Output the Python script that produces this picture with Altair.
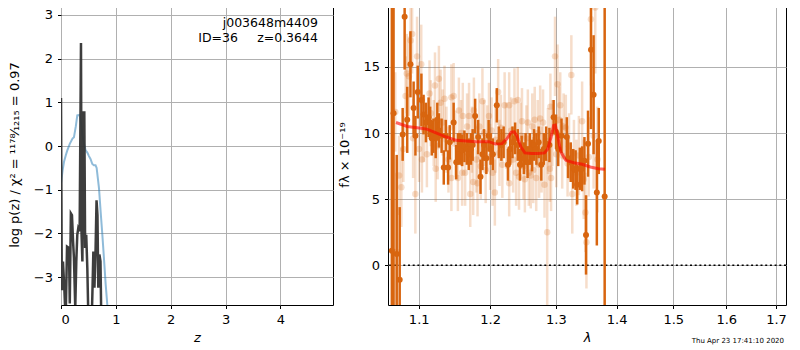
import altair as alt
import pandas as pd

FONT = "DejaVu Sans"

# ---------------- left panel: p(z) ----------------
z_blue = [0.0, 0.03, 0.055, 0.09, 0.115, 0.16, 0.21, 0.236, 0.27, 0.297, 0.34, 0.37, 0.39,
          0.42, 0.45, 0.48, 0.51, 0.54, 0.571, 0.6, 0.63, 0.65, 0.693, 0.72, 0.754, 0.785,
          0.815, 0.845, 0.87]
logp_blue = [-0.85, -0.55, -0.36, -0.2, -0.1, 0.05, 0.17, 0.2, 0.45, 0.70, 0.71, 0.5, 0.25,
             0.05, -0.1, -0.15, -0.23, -0.3, -0.41, -0.44, -0.44, -0.5, -0.97, -1.45, -2.03,
             -2.6, -3.17, -3.64, -4.2]

z_black = [0.0, 0.015, 0.036, 0.06, 0.085, 0.11, 0.145, 0.16, 0.18, 0.2, 0.22, 0.236, 0.26,
           0.279, 0.297, 0.315, 0.34, 0.3644, 0.375, 0.39, 0.41, 0.425, 0.44, 0.46, 0.48, 0.5,
           0.56, 0.575, 0.59, 0.61, 0.63, 0.648, 0.665, 0.68, 0.7, 0.72, 0.735]
logp_black = [1.1, -3.3, -2.64, -3.24, -4.0, -2.3, -2.33, -3.6, -1.54, -1.58, -2.18, -2.56, -3.7,
              -2.64, -2.03, -1.88, -1.95, 2.36, -2.03, -2.64, 0.77, 0.77, -2.33, -2.03, -2.79,
              -4.0, -4.0, -3.24, -2.41, -3.24, -2.41, -1.24, -1.58, -3.24, -2.48, -2.64, -4.0]

z_ticks = [0, 1, 2, 3, 4]
logp_ticks = [-3, -2, -1, 0, 1, 2, 3]

# ---------------- right panel: spectrum ----------------
dark_wave = [1.0646, 1.0668, 1.0709, 1.0748, 1.0787, 1.0813, 1.0847, 1.0890, 1.0932, 1.0956,
             1.0987, 1.1036, 1.1065, 1.1097, 1.1133, 1.1154, 1.1176, 1.1199, 1.1230, 1.1252,
             1.1274, 1.1311, 1.1341, 1.1369, 1.1401, 1.1424, 1.1478, 1.1515, 1.1538, 1.1570,
             1.1598, 1.1630, 1.1664, 1.1691, 1.1723, 1.1747, 1.1783, 1.1826, 1.1860, 1.1888,
             1.1911, 1.1945, 1.1978, 1.2007, 1.2040, 1.2098, 1.2127, 1.2166, 1.2199, 1.2263,
             1.2297, 1.2331, 1.2371, 1.2411, 1.2445, 1.2470, 1.2504, 1.2530, 1.2560, 1.2594,
             1.2629, 1.2659, 1.2696, 1.2731, 1.2772, 1.2811, 1.2848, 1.2899, 1.2965, 1.3003,
             1.3038, 1.3090, 1.3175, 1.3195, 1.3238, 1.3279, 1.3317, 1.3343, 1.3386, 1.3423,
             1.3461, 1.3487, 1.3520, 1.3569, 1.3612, 1.3666, 1.3698, 1.3797]
dark_flux = [1.1, 11.5, 0.85, -1.1, 9.9, 18.8, 11.0, 15.2, 11.9, 9.8,
             13.1, 12.5, 11.4, 10.8, 11.2, 10.8, 9.6, 9.8, 9.6, 11.0,
             10.2, 9.8, 7.4, 9.8, 7.4, 9.3, 10.8, 7.8, 8.8, 8.8,
             8.7, 9.0, 8.8, 8.4, 8.8, 9.1, 11.3, 9.7, 6.7, 8.4,
             9.1, 8.1, 9.8, 8.8, 8.4, 12.1, 9.3, 9.1, 9.3, 7.6,
             8.8, 9.3, 9.6, 9.1, 7.6, 8.6, 8.1, 8.8, 7.8, 8.8,
             8.3, 9.1, 8.8, 9.3, 7.6, 8.8, 9.2, 9.1, 11.2, 10.1,
             8.8, 9.8, 9.7, 8.1, 7.8, 7.3, 7.2, 6.1, 7.3, 7.3,
             7.9, 2.3, 9.2, 16.3, 12.9, 5.5, 9.4, 5.2]
dark_err = [25, 20, 7.5, 5.5, 2.0, 4.0, 2.5, 2.5, 2.0, 1.5,
            2.0, 2.0, 1.5, 1.5, 1.5, 1.2, 1.3, 1.3, 1.5, 1.3,
            1.3, 1.3, 1.3, 1.2, 1.3, 1.3, 1.5, 1.3, 1.2, 1.2,
            1.2, 1.2, 1.2, 1.2, 1.2, 1.2, 1.3, 1.3, 1.3, 1.2,
            1.2, 1.2, 1.2, 1.2, 1.2, 1.3, 1.2, 1.2, 1.2, 1.2,
            1.2, 1.2, 1.2, 1.2, 1.2, 1.2, 1.2, 1.2, 1.2, 1.2,
            1.2, 1.2, 1.2, 1.2, 1.2, 1.2, 1.3, 1.3, 1.3, 1.3,
            1.3, 1.3, 1.5, 1.5, 1.5, 1.5, 1.5, 1.5, 1.6, 1.7,
            1.8, 3.0, 2.5, 6.0, 4.5, 4.0, 2.5, 40]

light_wave = [1.0690, 1.0706, 1.0740, 1.0770, 1.0796, 1.0826, 1.0841, 1.0869, 1.0892, 1.0912,
              1.0925, 1.0955, 1.0978, 1.1004, 1.1034, 1.1043, 1.1070, 1.1110, 1.1146, 1.1163,
              1.1203, 1.1220, 1.1230, 1.1256, 1.1274, 1.1297, 1.1325, 1.1351, 1.1378, 1.1406,
              1.1447, 1.1447, 1.1478, 1.1501, 1.1538, 1.1552, 1.1584, 1.1598, 1.1607, 1.1640,
              1.1668, 1.1696, 1.1713, 1.1737, 1.1755, 1.1765, 1.1800, 1.1817, 1.1843, 1.1864,
              1.1888, 1.1914, 1.1935, 1.1957, 1.1983, 1.2000, 1.2021, 1.2036, 1.2069, 1.2079,
              1.2118, 1.2137, 1.2158, 1.2180, 1.2214, 1.2239, 1.2282, 1.2282, 1.2312, 1.2341,
              1.2361, 1.2386, 1.2411, 1.2430, 1.2452, 1.2475, 1.2497, 1.2519, 1.2542, 1.2564,
              1.2579, 1.2609, 1.2632, 1.2647, 1.2670, 1.2693, 1.2716, 1.2738, 1.2754, 1.2776,
              1.2799, 1.2822, 1.2864, 1.2876, 1.2907, 1.2914, 1.2925, 1.2945, 1.2987, 1.3007,
              1.3027, 1.3054, 1.3070, 1.3101, 1.3124, 1.3159, 1.3187, 1.3211, 1.3248, 1.3263,
              1.3290, 1.3330, 1.3370, 1.3423, 1.3450, 1.3477, 1.3494, 1.3531, 1.3568, 1.3612,
              1.3640, 1.3677]
light_flux = [11.6, 1.0, 6.8, 5.9, 8.8, 12.8, 14.5, 14.3, 17.0, 17.5,
              9.6, 5.4, 15.8, 8.8, 15.2, 8.0, 10.3, 8.4, 13.0, 11.5,
              10.0, 13.6, 7.3, 9.0, 14.1, 12.3, 10.8, 12.6, 9.5, 8.0,
              12.7, 6.6, 12.8, 9.2, 6.6, 11.7, 10.0, 7.0, 11.3, 7.0,
              10.5, 11.3, 5.4, 9.5, 6.3, 11.7, 8.0, 6.2, 10.5, 7.5,
              12.4, 10.0, 7.2, 9.6, 11.3, 8.2, 10.2, 7.0, 5.5, 9.5,
              13.1, 8.5, 10.4, 7.6, 12.1, 9.8, 12.1, 6.2, 10.2, 8.0,
              12.4, 7.0, 12.5, 6.7, 9.8, 10.9, 7.5, 6.5, 9.6, 10.8,
              7.0, 6.8, 10.5, 7.2, 11.0, 6.6, 10.0, 7.6, 11.1, 8.0,
              10.8, 6.1, 2.5, 9.4, 7.3, 12.0, 6.6, 10.0, 15.8, 8.4,
              13.7, 11.0, 12.1, 8.3, 10.5, 10.4, 7.7, 9.0, 14.4, 5.4,
              8.5, 7.0, 8.3, 10.9, 6.5, 4.0, 1.75, 8.2, 18.6, 9.8,
              19.5, 8.0]
light_err = [3.0, 6.0, 3.0, 3.0, 2.5, 3.0, 3.0, 3.0, 3.0, 3.0,
             3.0, 3.0, 3.0, 2.5, 3.0, 2.5, 2.5, 2.5, 2.5, 2.5,
             2.5, 2.5, 2.5, 2.5, 2.5, 2.5, 2.5, 2.5, 2.5, 2.5,
             2.5, 2.5, 2.5, 2.5, 2.5, 2.5, 2.5, 2.5, 2.5, 2.5,
             2.5, 2.5, 2.5, 2.5, 2.5, 2.5, 2.5, 2.5, 2.5, 2.5,
             2.5, 2.5, 2.5, 2.5, 2.5, 2.5, 2.5, 2.5, 2.5, 2.5,
             2.5, 2.5, 2.5, 2.5, 2.5, 2.5, 2.5, 2.5, 2.5, 2.5,
             2.5, 2.5, 2.5, 2.5, 2.5, 2.5, 2.5, 2.5, 2.5, 2.5,
             2.5, 2.5, 2.5, 2.5, 2.5, 2.5, 2.5, 2.5, 2.5, 2.5,
             2.5, 2.5, 5.5, 2.5, 2.5, 2.5, 2.5, 2.5, 3.0, 2.5,
             3.0, 2.5, 2.5, 2.5, 2.5, 2.5, 2.5, 2.5, 3.0, 3.0,
             2.5, 2.5, 3.0, 3.0, 3.0, 3.0, 3.5, 3.0, 5.0, 4.0,
             5.0, 4.0]

model_wave = [1.0700, 1.0847, 1.0978, 1.1110, 1.1243, 1.1378, 1.1515, 1.1654, 1.1793, 1.1983,
              1.2079, 1.2175, 1.2248, 1.2312, 1.2356, 1.2396, 1.2460, 1.2519, 1.2620, 1.2720,
              1.2822, 1.2873, 1.2925, 1.2965, 1.2992, 1.3027, 1.3080, 1.3159, 1.3290, 1.3423,
              1.3558, 1.3693, 1.3802]
model_flux = [10.8, 10.5, 10.4, 10.3, 10.0, 9.7, 9.45, 9.4, 9.35, 9.35,
              9.17, 9.2, 9.57, 10.07, 10.1, 9.8, 8.94, 8.5, 8.45, 8.45,
              8.5, 8.8, 9.7, 10.57, 10.6, 9.82, 8.57, 7.94, 7.76, 7.64,
              7.44, 7.31, 7.26]

wave_ticks = [1.1, 1.2, 1.3, 1.4, 1.5, 1.6, 1.7]
flux_ticks = [0, 5, 10, 15]

DARK = "#d8650f"
PLOT_H = 301

# ---------------- build left ----------------
df_blue = pd.DataFrame({"x": z_blue, "y": logp_blue})
df_black = pd.DataFrame({"x": z_black, "y": logp_black})

xl = alt.X("x:Q", scale=alt.Scale(domain=[0, 4.96], nice=False, zero=False),
           axis=alt.Axis(values=z_ticks, title="z", titleFontStyle="italic", format="d",
                         titlePadding=5))
yl = alt.Y("y:Q", scale=alt.Scale(domain=[-3.636, 3.25], nice=False, zero=False),
           axis=alt.Axis(values=logp_ticks, format="d",
                         title="log p(z) / χ² = ¹¹⁷⁸⁄₁₂₁₅ = 0.97"))

blue = alt.Chart(df_blue).mark_line(color="#1f77b4", opacity=0.5, strokeWidth=2, clip=True).encode(x=xl, y=yl)
black = alt.Chart(df_black).mark_line(color="#333333", opacity=0.95, strokeWidth=2.5, clip=True).encode(x="x:Q", y="y:Q")

ann = pd.DataFrame({"x": [4.685, 3.227, 4.685], "y": [2.818, 2.477, 2.477],
                    "t": ["j003648m4409", "ID=36", "z=0.3644"]})
ann_text = alt.Chart(ann).mark_text(align="right", baseline="middle", font=FONT, fontSize=12.5,
                                    color="black").encode(x="x:Q", y="y:Q", text="t:N")

left = alt.layer(blue, black, ann_text).properties(width=272, height=PLOT_H)

# ---------------- build right ----------------
df_dark = pd.DataFrame({"x": dark_wave, "y": dark_flux, "e": dark_err})
df_light = pd.DataFrame({"x": light_wave, "y": light_flux, "e": light_err})
df_model = pd.DataFrame({"x": model_wave, "y": model_flux})

xr = alt.X("x:Q", scale=alt.Scale(type="log", domain=[1.0596, 1.7208], nice=False, zero=False),
           axis=alt.Axis(values=wave_ticks, format=".1f", title="λ", titleFontStyle="italic",
                         titlePadding=5))
yr_scale = alt.Scale(domain=[-3.0, 19.76], nice=False, zero=False)
yr_axis = alt.Axis(values=flux_ticks, format="d", title="fλ × 10⁻¹⁹")

zero_line = alt.Chart(pd.DataFrame({"y": [0]})).mark_rule(
    color="black", strokeWidth=1.5, strokeDash=[2, 2.7]).encode(y="y:Q")

light_bars = alt.Chart(df_light).transform_calculate(
    lo="datum.y - datum.e", hi="datum.y + datum.e").mark_rule(
    color=DARK, opacity=0.22, strokeWidth=2.5, clip=True).encode(
    x=xr, y=alt.Y("lo:Q", scale=yr_scale, axis=yr_axis), y2="hi:Q")
light_pts = alt.Chart(df_light).mark_circle(color=DARK, opacity=0.22, size=42, clip=True).encode(x="x:Q", y="y:Q")

dark_bars = alt.Chart(df_dark).transform_calculate(
    lo="datum.y - datum.e", hi="datum.y + datum.e").mark_rule(
    color=DARK, opacity=1, strokeWidth=2.5, clip=True).encode(x="x:Q", y="lo:Q", y2="hi:Q")
dark_pts = alt.Chart(df_dark).mark_circle(color=DARK, opacity=1, size=36, clip=True).encode(x="x:Q", y="y:Q")

model = alt.Chart(df_model).mark_line(color="red", opacity=0.6, strokeWidth=3, clip=True).encode(x="x:Q", y="y:Q")

stamp = alt.Chart(pd.DataFrame({"t": ["Thu Apr 23 17:41:10 2020"]})).mark_text(
    align="right", baseline="middle", font=FONT, fontSize=7, color="black").encode(
    x=alt.value(396), y=alt.value(337), text="t:N")

right = alt.layer(light_bars, light_pts, zero_line, dark_bars, dark_pts, model, stamp).properties(width=398, height=PLOT_H)

chart = alt.hconcat(left, right, spacing=3).configure_view(
    stroke="black", strokeWidth=1).configure_axis(
    grid=True, gridColor="#b0b0b0", gridWidth=1, domain=False,
    tickColor="black", tickSize=3.5, tickWidth=1,
    labelFont=FONT, labelFontSize=13, labelColor="black", labelPadding=5,
    titleFont=FONT, titleFontSize=13, titleColor="black", titleFontWeight="normal",
    titlePadding=11.5
).properties(padding={"left": 0, "top": -5, "right": 0, "bottom": 0})

chart.save("out.html", embed_options={"renderer": "svg", "actions": False})
